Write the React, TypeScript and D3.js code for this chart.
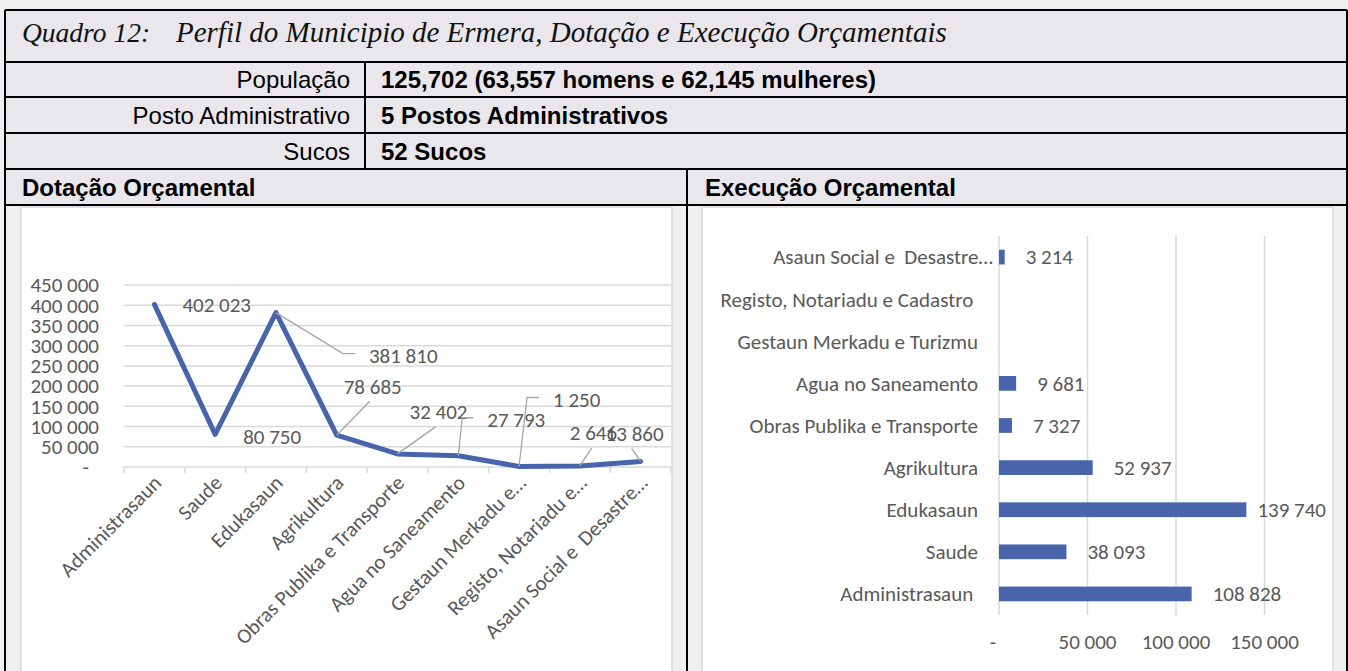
import React from 'react';
import * as d3 from 'd3';

// ---------- data ----------
const titleLead = 'Quadro 12:';
const titleText = 'Perfil do Municipio de Ermera, Dotação e Execução Orçamentais';
const rowLabels = ['População', 'Posto Administrativo', 'Sucos'];
const rowValues = ['125,702 (63,557 homens e 62,145 mulheres)', '5 Postos Administrativos', '52 Sucos'];
const leftTitle = 'Dotação Orçamental';
const rightTitle = 'Execução Orçamental';

const categories = [
  'Administrasaun', 'Saude', 'Edukasaun', 'Agrikultura', 'Obras Publika e Transporte',
  'Agua no Saneamento', 'Gestaun Merkadu e Turizmu', 'Registo, Notariadu e Cadastro',
  'Asaun Social e  Desastre Naturais',
];
const dotacaoLabels = [
  'Administrasaun', 'Saude', 'Edukasaun', 'Agrikultura', 'Obras Publika e Transporte',
  'Agua no Saneamento', 'Gestaun Merkadu e…', 'Registo, Notariadu e…', 'Asaun Social e  Desastre…',
];
const execucaoLabels = [
  'Administrasaun ', 'Saude', 'Edukasaun', 'Agrikultura', 'Obras Publika e Transporte',
  'Agua no Saneamento', 'Gestaun Merkadu e Turizmu', 'Registo, Notariadu e Cadastro ',
  'Asaun Social e  Desastre…',
];
const dotacaoValues = [402023, 80750, 381810, 78685, 32402, 27793, 1250, 2646, 13860];
const execucaoValues: (number | null)[] = [108828, 38093, 139740, 52937, 7327, 9681, null, null, 3214];
const dotacaoTicks = [0, 50000, 100000, 150000, 200000, 250000, 300000, 350000, 400000, 450000];
const execucaoTicks = [0, 50000, 100000, 150000];

// label placement (Excel manual label offsets, relative to point) – layout, not data
const labelLayout = [
  { dx: 28, dy: 0, leader: [] as number[][] },
  { dx: 28, dy: 2, leader: [] },
  { dx: 93, dy: 43, leader: [[67, 41], [79, 41]] },
  { dx: 7, dy: -49, leader: [[33, -34]] },
  { dx: 12, dy: -42, leader: [[38, -27]] },
  { dx: 29, dy: -36, leader: [[4, -38], [15, -38]] },
  { dx: 34, dy: -67, leader: [[8, -69], [20, -69]] },
  { dx: -10, dy: -33, leader: [[12, -18]] },
  { dx: -35, dy: -28, leader: [[-9, -13]] },
];

const locale = d3.formatLocale({ decimal: ',', thousands: ' ', grouping: [3], currency: ['', ''] });
const fmtNum = locale.format(',d');
const fmt = (v: number) => (v === 0 ? '-' : fmtNum(v));

const CHART_FONT = "Carlito, Lato, 'Open Sans', sans-serif";
const CHART_FS = 21;
const HEAD_FONT = "'Liberation Sans', Arial, sans-serif";
const TXT = '#595959';
const BLUE = '#4864ab';
const GRID = '#d9d9d9';
const CELL = '#e9e7eb';
const GUTTER = '#f0f0f0';

export default function App() {
  const W = 1348, H = 671;
  const L = 5, R = 1347, T = 10;
  const rowY = [10, 62, 97, 133, 169, 205];
  const divX = 365, midX = 687;

  // left chart scales
  const xL = d3.scaleBand<string>().domain(categories).range([124, 671]);
  const yL = d3.scaleLinear().domain([0, 450000]).range([467, 285]);
  const cx = (i: number) => (xL(categories[i]) as number) + xL.bandwidth() / 2;
  const linePath = d3.line<number>().x((_, i) => cx(i)).y((d) => yL(d))(dotacaoValues) || '';

  // right chart scales
  const yR = d3.scaleBand<string>().domain([...categories].reverse()).range([236, 615]).paddingInner(0.65).paddingOuter(0.325);
  const xR = d3.scaleLinear().domain([0, 150000]).range([999, 1264.5]);
  const rightLimit = 1326;

  return (
    <div style={{ position: 'absolute', left: 0, top: 0 }}>
      <svg width={W} height={H} style={{ display: 'block' }}>
        <rect x={0} y={0} width={W} height={H} fill={GUTTER} />
        {/* header cells */}
        <rect x={L} y={T} width={R - L} height={rowY[5] - T} fill={CELL} />
        {/* chart panels */}
        <rect x={L} y={rowY[5]} width={midX - L} height={H} fill={GUTTER} />
        <rect x={midX} y={rowY[5]} width={R - midX} height={H} fill={GUTTER} />
        <rect x={21} y={207} width={651} height={H} fill="#fff" stroke={GRID} strokeWidth={1.5} />
        <rect x={702} y={207} width={631} height={H} fill="#fff" stroke={GRID} strokeWidth={1.5} />

        {/* header borders */}
        <g stroke="#000" strokeWidth={2}>
          <line x1={L} x2={R} y1={T} y2={T} />
          {rowY.slice(1).map((y) => <line key={y} x1={L} x2={R} y1={y} y2={y} />)}
          <line x1={L} x2={L} y1={T} y2={H} />
          <line x1={R} x2={R} y1={T} y2={H} />
          <line x1={divX} x2={divX} y1={rowY[1]} y2={rowY[4]} />
          <line x1={midX} x2={midX} y1={rowY[4]} y2={H} />
        </g>

        {/* header text */}
        <text x={22} y={42} fontFamily="'Liberation Serif', 'Times New Roman', serif" fontStyle="italic" fontSize={27.5} fill="#111">{titleLead}</text>
        <text x={176} y={42} fontFamily="'Liberation Serif', 'Times New Roman', serif" fontStyle="italic" fontSize={29} fill="#111">{titleText}</text>
        {rowLabels.map((t, i) => (
          <text key={t} x={350} y={(rowY[i + 1] + rowY[i + 2]) / 2} dy="0.36em" textAnchor="end" fontFamily={HEAD_FONT} fontSize={24} fill="#000">{t}</text>
        ))}
        {rowValues.map((t, i) => (
          <text key={t} x={381} y={(rowY[i + 1] + rowY[i + 2]) / 2} dy="0.36em" fontFamily={HEAD_FONT} fontWeight="bold" fontSize={24} fill="#000">{t}</text>
        ))}
        <text x={22} y={(rowY[4] + rowY[5]) / 2} dy="0.36em" fontFamily={HEAD_FONT} fontWeight="bold" fontSize={24} fill="#000">{leftTitle}</text>
        <text x={705} y={(rowY[4] + rowY[5]) / 2} dy="0.36em" fontFamily={HEAD_FONT} fontWeight="bold" fontSize={24} fill="#000">{rightTitle}</text>

        {/* ---------- left line chart ---------- */}
        <g fontFamily={CHART_FONT} fontSize={CHART_FS} fill={TXT}>
          {dotacaoTicks.map((t) => (
            <g key={t}>
              {t > 0 && <line x1={124} x2={671} y1={yL(t)} y2={yL(t)} stroke={GRID} strokeWidth={1.5} />}
              <text x={99} dx={t === 0 ? -10 : 0} y={yL(t)} dy="0.35em" textAnchor="end">{fmt(t)}</text>
            </g>
          ))}
          <line x1={124} x2={671} y1={yL(0)} y2={yL(0)} stroke={GRID} strokeWidth={1.5} />
          {d3.range(categories.length + 1).map((i) => {
            const x = 124 + i * xL.step();
            return <line key={i} x1={x} x2={x} y1={yL(0)} y2={yL(0) + 6} stroke={GRID} strokeWidth={1.5} />;
          })}
          {dotacaoLabels.map((t, i) => (
            <text key={t} transform={`translate(${cx(i) + 3},${yL(0) + 12}) rotate(-45)`} textAnchor="end" dy="0.35em" style={{ whiteSpace: 'pre' }}>{t}</text>
          ))}
          <path d={linePath} fill="none" stroke={BLUE} strokeWidth={5} strokeLinejoin="round" strokeLinecap="round" />
          {dotacaoValues.map((v, i) => {
            const px = cx(i), py = yL(v);
            const lay = labelLayout[i];
            const pts = [[px, py], ...lay.leader.map(([a, b]) => [px + a, py + b])];
            return (
              <g key={i}>
                {lay.leader.length > 0 && (
                  <polyline points={pts.map((p) => p.join(',')).join(' ')} fill="none" stroke="#a6a6a6" strokeWidth={1.3} />
                )}
                <text x={px + lay.dx} y={py + lay.dy} dy="0.35em">{fmtNum(v)}</text>
              </g>
            );
          })}
        </g>

        {/* ---------- right bar chart ---------- */}
        <g fontFamily={CHART_FONT} fontSize={CHART_FS} fill={TXT}>
          {execucaoTicks.map((t) => (
            <g key={t}>
              <line x1={xR(t)} x2={xR(t)} y1={236} y2={615} stroke={GRID} strokeWidth={1.5} />
              <text x={xR(t)} dx={t === 0 ? -6 : 0} y={642} dy="0.35em" textAnchor="middle">{fmt(t)}</text>
            </g>
          ))}
          {categories.map((c, i) => {
            const yc = (yR(c) as number) + yR.bandwidth() / 2;
            const lab = execucaoLabels[i];
            return (
              <text key={c} x={978} dx={lab.endsWith('…') ? 15 : 0} y={yc} dy="0.35em" textAnchor="end" style={{ whiteSpace: 'pre' }}>{lab}</text>
            );
          })}
          {categories.map((c, i) => {
            const v = execucaoValues[i];
            if (v == null) return null;
            const y0 = yR(c) as number;
            const end = xR(v);
            const lx = end + 21;
            const overflow = lx + 70 > rightLimit;
            return (
              <g key={c}>
                <rect x={xR(0)} y={y0} width={end - xR(0)} height={yR.bandwidth()} fill={BLUE} />
                <text x={overflow ? rightLimit : lx} y={y0 + yR.bandwidth() / 2} dy="0.35em" textAnchor={overflow ? 'end' : 'start'}>{fmtNum(v)}</text>
              </g>
            );
          })}
        </g>
      </svg>
    </div>
  );
}
